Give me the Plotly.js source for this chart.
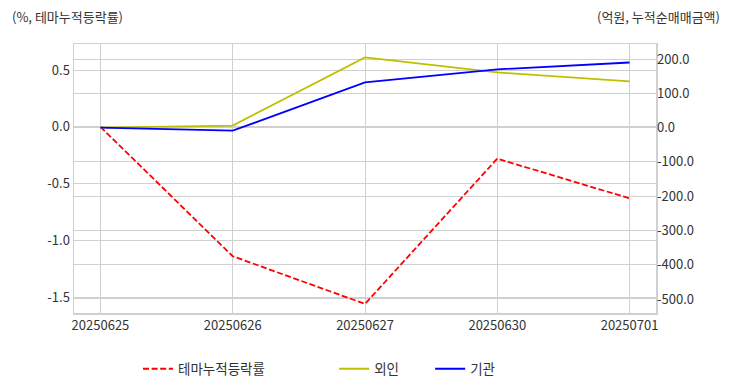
<!DOCTYPE html>
<html><head><meta charset="utf-8">
<script src="https://cdn.plot.ly/plotly-3.0.1.min.js"></script>
<style>html,body{margin:0;padding:0;background:#fff}</style>
</head><body><div id="chart" style="width:732px;height:392px"></div>
<script>
const dates = ['20250625','20250626','20250627','20250630','20250701'];
const themeRate = [0.0, -1.14, -1.56, -0.28, -0.63];
const foreign = [0.0, 6, 205, 161, 135];
const institution = [0.0, -9, 132, 170, 190];
const leftTicks = [0.5, 0.0, -0.5, -1.0, -1.5];
const rightTicks = [200, 100, 0, -100, -200, -300, -400, -500];

const fam = 'Noto Sans CJK KR, sans-serif';
const font = {family: fam, size: 13, color: '#333'};
const traces = [
  {x: dates, y: themeRate, name: '테마누적등락률', type: 'scatter', mode: 'lines', yaxis: 'y', legend: 'legend',
   line: {color: '#ff0000', dash: '6px,2.6px', width: 1.8}},
  {x: dates, y: foreign, name: '외인', type: 'scatter', mode: 'lines', yaxis: 'y2', legend: 'legend2',
   line: {color: '#bfbf00', width: 1.8}},
  {x: dates, y: institution, name: '기관', type: 'scatter', mode: 'lines', yaxis: 'y2', legend: 'legend2',
   line: {color: '#0000ff', width: 1.8}}
];
const legFont = {family: fam, size: 13.5, color: '#333'};
const layout = {
  width: 732, height: 392,
  margin: {l: 74, r: 76, t: 44, b: 79, autoexpand: false},
  paper_bgcolor: '#fff', plot_bgcolor: '#fff',
  font: font,
  showlegend: true,
  legend: {orientation: 'h', x: 0.11, xanchor: 'left', y: -0.208, yanchor: 'middle',
           font: legFont, itemwidth: 30, bgcolor: 'rgba(0,0,0,0)'},
  legend2: {orientation: 'h', x: 0.447, xanchor: 'left', y: -0.208, yanchor: 'middle',
           font: legFont, itemwidth: 30, entrywidth: 51, bgcolor: 'rgba(0,0,0,0)'},
  xaxis: {type: 'category', range: [-0.2, 4.2], showgrid: true, gridcolor: '#d0d0d0', gridwidth: 1,
          showline: true, linecolor: '#d0d0d0', linewidth: 1.5, mirror: true, ticks: '', zeroline: false,
          tickfont: font, automargin: false},
  yaxis: {range: [-1.64, 0.73], tickvals: leftTicks, ticktext: leftTicks.map(v => v.toFixed(1)),
          showgrid: true, gridcolor: '#d0d0d0', showline: true, linecolor: '#d0d0d0', linewidth: 1.5,
          mirror: true, zeroline: false, ticks: '', tickfont: font, automargin: false},
  yaxis2: {overlaying: 'y', side: 'right', range: [-541, 244], tickvals: rightTicks,
           ticktext: rightTicks.map(v => v.toFixed(1)), showgrid: true, gridcolor: '#d0d0d0',
           zeroline: false, ticks: '', tickfont: font, showline: false, automargin: false},
  annotations: [
    {text: '(%, 테마누적등락률)', xref: 'paper', yref: 'paper', x: -0.11, y: 1.0, yshift: 28,
     xanchor: 'left', yanchor: 'middle', showarrow: false, font: font},
    {text: '(억원, 누적순매매금액)', xref: 'paper', yref: 'paper', x: 1.0, xshift: 66, y: 1.0, yshift: 28,
     xanchor: 'right', yanchor: 'middle', showarrow: false, font: font}
  ]
};
Plotly.newPlot('chart', traces, layout, {displayModeBar: false, staticPlot: true});
</script></body></html>
